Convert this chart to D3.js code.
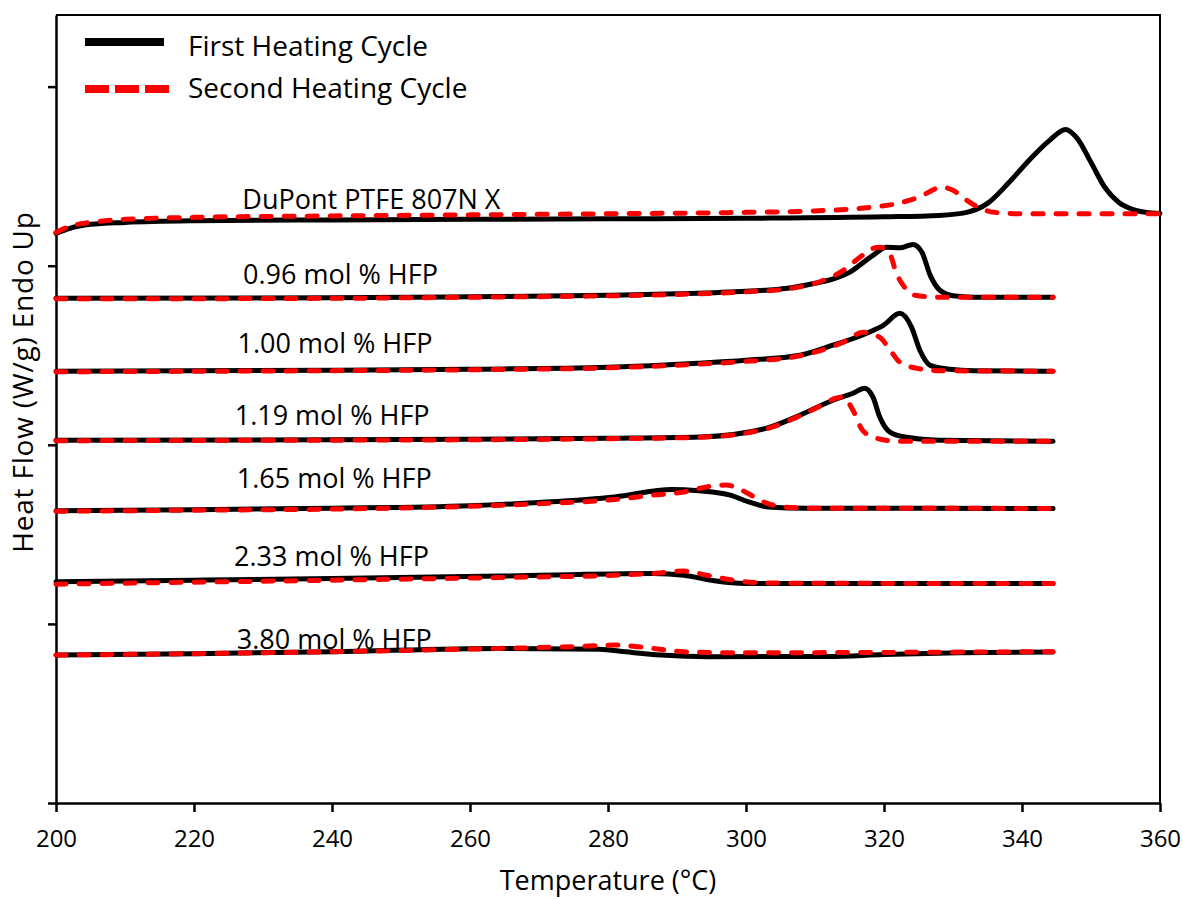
<!doctype html>
<html lang="en">
<head>
<meta charset="utf-8">
<style>
  body { margin: 0; background: #fff; }
  svg { display: block; font-family: "Open Sans", sans-serif; }
  .axis path, .axis line { stroke: #000; stroke-width: 2.5; }
  .axis text { font-size: 24px; fill: #000; font-family: "Open Sans", sans-serif; }
  .first { fill: none; stroke: #000; stroke-width: 5; stroke-linejoin: round; stroke-linecap: round; }
  .second { fill: none; stroke: #ff0000; stroke-width: 5; stroke-dasharray: 10,13; stroke-linecap: round; }
  .lbl { font-size: 27px; fill: #000; }
</style>
</head>
<body>
<script src="https://cdn.jsdelivr.net/npm/d3@7"></script>
<script>
// sample names (labels drawn next to each trace)
var samples = ["DuPont PTFE 807N X", "0.96 mol % HFP", "1.00 mol % HFP", "1.19 mol % HFP",
               "1.65 mol % HFP", "2.33 mol % HFP", "3.80 mol % HFP"];

// first heating cycle, temperature (°C) and heat flow (offset, arbitrary)
var t1_dup = [200,202,205,210,220,240,260,280,300,320,328,332,335,338,341,344,346.3,348,350,352,354,356,358,360];
var h1_dup = [3.181,3.209,3.231,3.242,3.251,3.256,3.259,3.262,3.265,3.273,3.281,3.298,3.348,3.460,3.588,3.700,3.761,3.711,3.577,3.438,3.354,3.315,3.298,3.292];
var t1_096 = [200,240,260,280,290,300,306,310,312,315,318.4,320.4,322.3,324.2,325.5,326.7,328.1,330,333,344.5];
var h1_096 = [2.818,2.821,2.827,2.835,2.843,2.857,2.874,2.902,2.919,2.963,3.058,3.103,3.100,3.119,3.075,2.946,2.863,2.832,2.824,2.824];
var t1_100 = [200,240,260,280,293,300,307.8,312.6,317.5,319.9,322.3,324,325.2,326.7,329.6,333,344.5];
var h1_100 = [2.411,2.416,2.422,2.433,2.455,2.472,2.500,2.556,2.623,2.667,2.734,2.656,2.528,2.444,2.422,2.414,2.411];
var t1_119 = [200,240,260,280,293.3,303,307.8,312.6,315.5,317.2,318.4,319.4,320.9,323.3,328,344.5];
var h1_119 = [2.026,2.028,2.031,2.037,2.044,2.093,2.165,2.249,2.288,2.316,2.266,2.154,2.070,2.042,2.026,2.020];
var t1_165 = [200,220,240,260,270,281,289.3,293.2,297.7,300.4,303.2,308.7,344.5];
var h1_165 = [1.632,1.638,1.646,1.660,1.678,1.709,1.751,1.743,1.719,1.681,1.653,1.646,1.645];
var t1_233 = [200,220,240,264.3,286.5,291,295.4,299.9,310,344.5];
var h1_233 = [1.236,1.244,1.253,1.267,1.282,1.272,1.241,1.226,1.225,1.225];
var t1_380 = [200,220,240,264.3,278.8,282.6,287.7,294.8,312,320,330.9,344.5];
var h1_380 = [0.826,0.834,0.845,0.863,0.859,0.844,0.826,0.817,0.818,0.829,0.839,0.843];

// second heating cycle
var t2_dup = [200,202,205,210,220,240,260,280,300,310,318,322,325,328.4,330,332,334,336,340,360];
var h2_dup = [3.186,3.220,3.242,3.259,3.270,3.278,3.284,3.290,3.298,3.306,3.326,3.348,3.382,3.438,3.421,3.365,3.320,3.298,3.290,3.290];
var t2_096 = [200,240,260,280,290,300,306,310,314.1,316.5,318.4,319.4,320.8,321.8,323,324.5,328,344.5];
var h2_096 = [2.815,2.818,2.824,2.832,2.840,2.854,2.871,2.902,2.974,3.047,3.097,3.103,3.069,2.958,2.879,2.835,2.824,2.824];
var t2_100 = [200,240,260,280,293,300,307.8,312.6,314.1,317,319.4,320.9,322.3,324.8,328.1,344.5];
var h2_100 = [2.408,2.414,2.419,2.430,2.450,2.466,2.497,2.550,2.573,2.628,2.600,2.528,2.461,2.427,2.414,2.411];
var t2_119 = [200,240,260,280,293.3,303,307.8,311,313,314.1,315.5,316.9,318.9,322,344.5];
var h2_119 = [2.023,2.026,2.028,2.034,2.042,2.090,2.162,2.221,2.260,2.266,2.193,2.081,2.037,2.020,2.020];
var t2_165 = [200,220,240,260,270,281,286.5,291,294.3,297.1,299.9,302,305.4,310,344.5];
var h2_165 = [1.629,1.635,1.641,1.657,1.671,1.695,1.719,1.737,1.765,1.775,1.737,1.691,1.653,1.646,1.645];
var t2_233 = [200,220,240,264.3,281,287,291,294.3,298.7,303.2,344.5];
var h2_233 = [1.222,1.233,1.244,1.259,1.272,1.283,1.295,1.272,1.241,1.228,1.225];
var t2_380 = [200,220,240,264.3,275,281,286.5,291,297.7,344.5];
var h2_380 = [0.826,0.834,0.845,0.863,0.873,0.882,0.863,0.844,0.839,0.845];

// label anchors (temperature, heat flow) for each sample name
var labelT = [227, 227.1, 226.3, 225.9, 226.2, 225.8, 226.2];
var labelH = [3.317, 2.900, 2.513, 2.109, 1.759, 1.323, 0.860];

var xTicks = [200,220,240,260,280,300,320,340,360];
var yTicks = [0,1,2,3,4];

var firstSet = [[t1_dup,h1_dup],[t1_096,h1_096],[t1_100,h1_100],[t1_119,h1_119],[t1_165,h1_165],[t1_233,h1_233],[t1_380,h1_380]];
var secondSet = [[t2_dup,h2_dup],[t2_096,h2_096],[t2_100,h2_100],[t2_119,h2_119],[t2_165,h2_165],[t2_233,h2_233],[t2_380,h2_380]];

var width = 1183, height = 897;
var margin = {top: 15, right: 23, bottom: 94, left: 56};

var svg = d3.select("body").append("svg")
    .attr("width", width)
    .attr("height", height);

var x = d3.scaleLinear().domain([200, 360]).range([margin.left, width - margin.right]);
var y = d3.scaleLinear().domain([0, 4.4]).range([height - margin.bottom, margin.top]);

// frame top/right
svg.append("path")
    .attr("d", "M" + x(200) + "," + y(4.4) + "H" + x(360) + "V" + y(0))
    .attr("fill", "none").attr("stroke", "#000").attr("stroke-width", 2);

var xg = svg.append("g").attr("class", "axis")
    .attr("transform", "translate(0," + y(0) + ")")
    .call(d3.axisBottom(x).tickValues(xTicks).tickSize(9).tickSizeOuter(0));
xg.selectAll("text").attr("y", 44).attr("dy", "0");

svg.append("g").attr("class", "axis")
    .attr("transform", "translate(" + x(200) + ",0)")
    .call(d3.axisLeft(y).tickValues(yTicks).tickSize(8).tickSizeOuter(0).tickFormat(""));

var line = d3.line()
    .x(function(d){ return x(d[0]); })
    .y(function(d){ return y(d[1]); })
    .curve(d3.curveMonotoneX);

function pts(s){ return s[0].map(function(t, i){ return [t, s[1][i]]; }); }

svg.append("g").selectAll("path").data(firstSet).enter()
    .append("path").attr("class", "first").attr("d", function(s){ return line(pts(s)); });
svg.append("g").selectAll("path").data(secondSet).enter()
    .append("path").attr("class", "second").attr("d", function(s){ return line(pts(s)); });

svg.append("g").selectAll("text").data(samples).enter()
    .append("text").attr("class", "lbl")
    .attr("x", function(d, i){ return x(labelT[i]); })
    .attr("y", function(d, i){ return y(labelH[i]); })
    .text(function(d){ return d; });

// legend
var lg = svg.append("g");
lg.append("line").attr("x1", 85).attr("x2", 164).attr("y1", 42).attr("y2", 42)
    .attr("stroke", "#000").attr("stroke-width", 8);
lg.append("line").attr("x1", 85).attr("x2", 170).attr("y1", 89).attr("y2", 89)
    .attr("stroke", "#ff0000").attr("stroke-width", 8).attr("stroke-dasharray", "24,6");
lg.append("text").attr("x", 188).attr("y", 56).attr("font-size", 28).text("First Heating Cycle");
lg.append("text").attr("x", 188).attr("y", 98).attr("font-size", 28).text("Second Heating Cycle");

// axis titles
svg.append("text").attr("x", (x(200) + x(360)) / 2).attr("y", 890)
    .attr("text-anchor", "middle").attr("font-size", 27).text("Temperature (°C)");
svg.append("text").attr("transform", "translate(33," + 382 + ") rotate(-90)")
    .attr("text-anchor", "middle").attr("font-size", 28).attr("letter-spacing", 0.8)
    .text("Heat Flow (W/g) Endo Up");
</script>
</body>
</html>
